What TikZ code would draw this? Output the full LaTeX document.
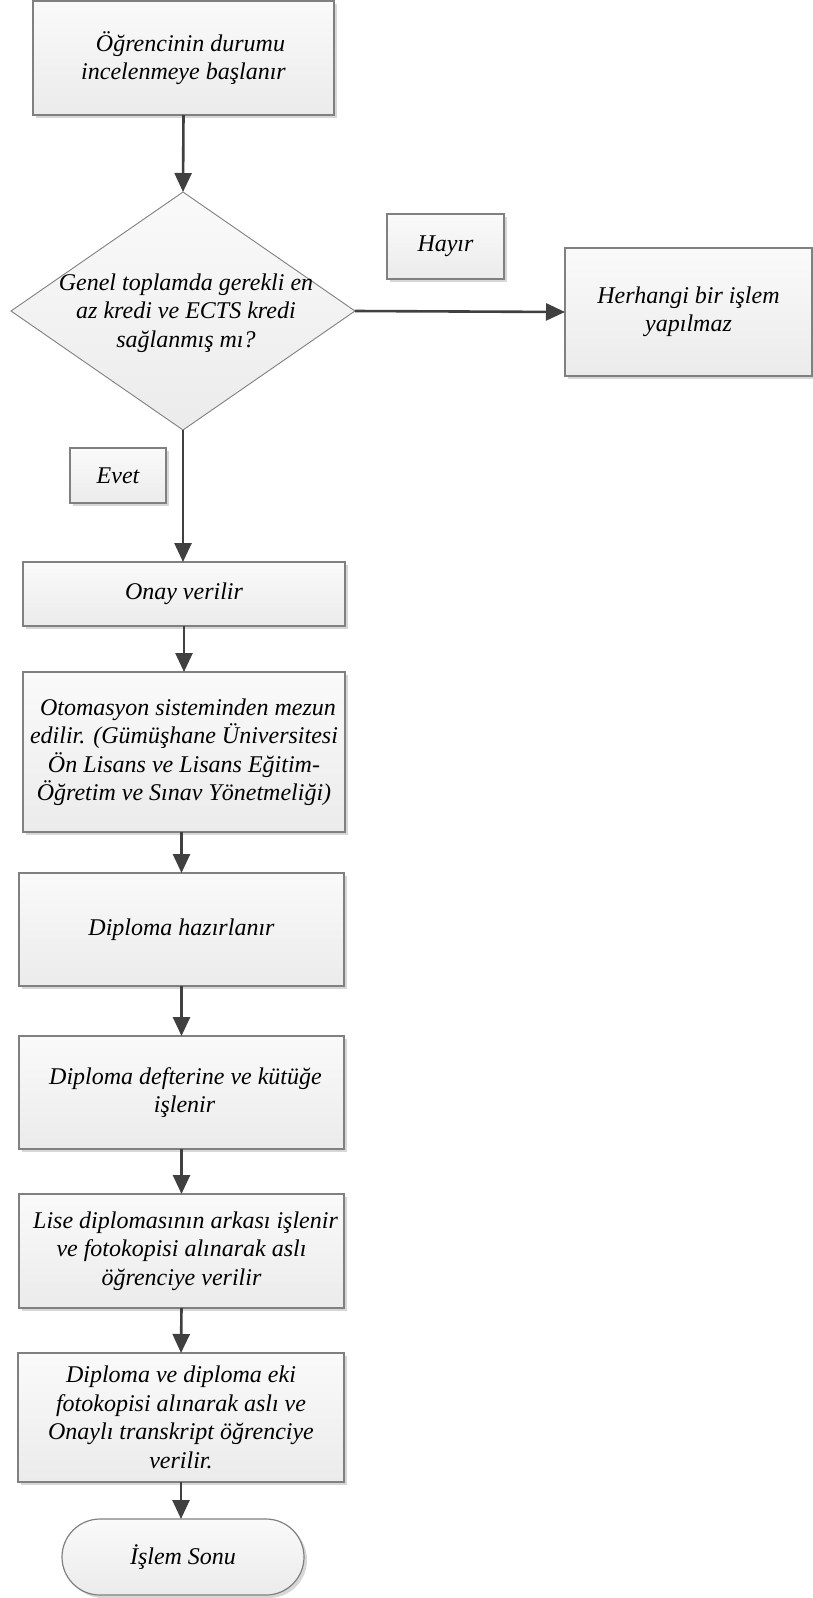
\documentclass[tikz,border=0pt]{standalone}
\usepackage{fontspec}
\setmainfont{Liberation Serif}
\usetikzlibrary{shapes.geometric,shapes.misc,shadows,arrows.meta}
\definecolor{bordergray}{RGB}{128,128,128}
\definecolor{filltop}{RGB}{250,250,250}
\definecolor{fillbot}{RGB}{235,235,235}
\definecolor{arrowgray}{RGB}{64,64,64}
\definecolor{shadowgray}{RGB}{215,215,215}
\begin{document}
\begin{tikzpicture}[x=1pt,y=-1pt,
  txt/.style={font=\fontsize{24}{28.5}\selectfont\itshape, align=center, inner sep=0pt},
  box/.style={txt, draw=bordergray, line width=1.2pt, top color=filltop, bottom color=fillbot,
    drop shadow={shadow xshift=3pt,shadow yshift=-3pt,fill=shadowgray,opacity=1},
    rectangle, outer sep=0pt},
  dec/.style={diamond, draw=bordergray, line width=0.9pt, top color=filltop, bottom color=fillbot,
    inner sep=0pt, outer sep=0pt},
  term/.style={txt, rounded rectangle, draw=bordergray, line width=1.2pt, top color=filltop, bottom color=fillbot,
    drop shadow={shadow xshift=3pt,shadow yshift=-3pt,fill=shadowgray,opacity=1}, outer sep=0pt},
  arr/.style={draw=arrowgray, line width=2.6pt, -{Triangle[width=17pt,length=19pt]}}
]
\useasboundingbox (0,0) rectangle (813,1598);

\node[box, minimum width=301pt, minimum height=114pt] (start) at (183.5,58) {\hspace*{14pt}Öğrencinin durumu\\ incelenmeye başlanır};

\node[dec, minimum width=344pt, minimum height=238pt] (q) at (183,311) {};
\node[txt] (qt) at (186,313) {Genel toplamda gerekli en\\ az kredi ve ECTS kredi\\ sağlanmış mı?};

\node[box, minimum width=117pt, minimum height=65pt] (hayir) at (445.5,246.5) {Hayır};
\node[box, minimum width=247pt, minimum height=128pt] (none) at (688.5,312) {Herhangi bir işlem\\ yapılmaz};

\node[box, minimum width=96pt, minimum height=55pt] (evet) at (118,475.5) {Evet};

\node[box, minimum width=322pt, minimum height=64pt] (onay) at (184,594) {Onay verilir};
\node[box, minimum width=322pt, minimum height=160pt] (oto) at (184,752) {\hspace*{8pt}Otomasyon sisteminden mezun\\ edilir. (Gümüşhane Üniversitesi\\ Ön Lisans ve Lisans Eğitim-\\ Öğretim ve Sınav Yönetmeliği)};
\node[box, minimum width=325pt, minimum height=113pt] (dhaz) at (181.5,929.5) {Diploma hazırlanır};
\node[box, minimum width=325pt, minimum height=113pt] (ddef) at (181.5,1092.5) {\hspace*{8pt}Diploma defterine ve kütüğe\\ \hspace*{6pt}işlenir};
\node[box, minimum width=325pt, minimum height=114pt] (lise) at (181.5,1251) {\hspace*{8pt}Lise diplomasının arkası işlenir\\ ve fotokopisi alınarak aslı\\ öğrenciye verilir};
\node[box, minimum width=326pt, minimum height=129pt] (dve) at (181,1417.5) {Diploma ve diploma eki\\ fotokopisi alınarak aslı ve\\ Onaylı transkript öğrenciye\\ verilir.};
\node[term, minimum width=242pt, minimum height=76pt] (end) at (183,1557) {İşlem Sonu};

\draw[arr] (start.south) -- (q.north);
\draw[arr] (q.east) -- (none.west);
\draw[arr] (q.south) -- (q.south |- onay.north);
\draw[arr] (onay.south) -- (onay.south |- oto.north);
\draw[arr] (dhaz.north |- oto.south) -- (dhaz.north);
\draw[arr] (dhaz.south) -- (ddef.north);
\draw[arr] (ddef.south) -- (lise.north);
\draw[arr] (lise.south) -- (dve.north);
\draw[arr] (dve.south) -- (dve.south |- end.north);
\end{tikzpicture}
\end{document}
